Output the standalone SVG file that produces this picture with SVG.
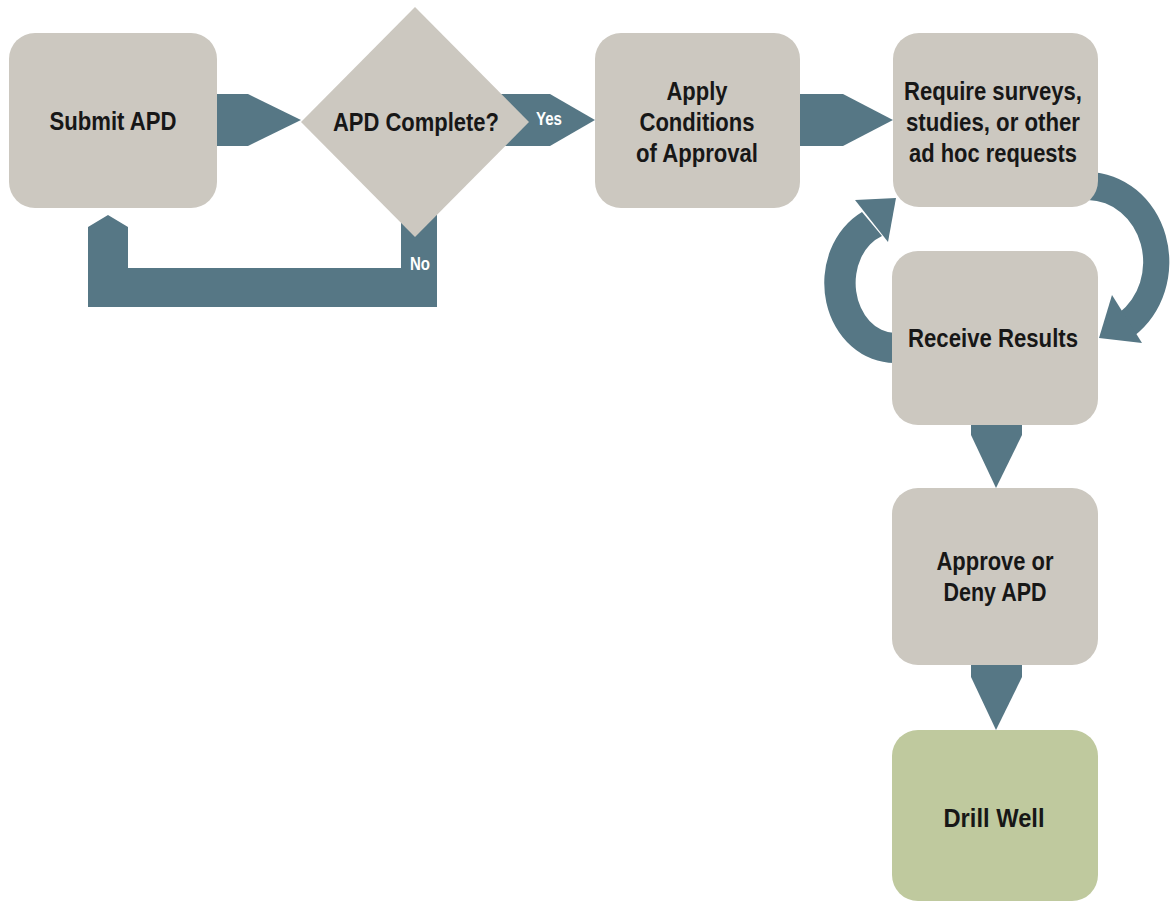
<svg xmlns="http://www.w3.org/2000/svg" width="1176" height="901" viewBox="0 0 1176 901">
<style>
.box{fill:#ccc8c0}
.go{fill:#bfc99e}
.con{fill:#567785}
.t{font-family:"Liberation Sans",Arial,sans-serif;font-weight:bold;font-size:25px;fill:#171717;text-anchor:middle}
.w{font-family:"Liberation Sans",Arial,sans-serif;font-weight:bold;font-size:18px;fill:#ffffff;text-anchor:middle}
</style>
<rect width="1176" height="901" fill="#ffffff"/>
<g id="connectors">
<polygon class="con" points="200,94 248,94 301,120 248,146 200,146"/>
<polygon class="con" points="500,94 550,94 595,120 550,146 500,146"/>
<polygon class="con" points="780,94 843,94 893,120 843,146 780,146"/>
<path class="con" d="M108,215 L128,227 L128,268 L401,268 L401,205 L437,205 L437,307 L88,307 L88,227 Z"/>
<path class="con" d="M1088,172 A82,90 0 0 1 1134,336 L1119,313 A56,62 0 0 0 1088,200 Z"/>
<polygon class="con" points="1112,295 1142,343 1099,338"/>
<path class="con" d="M895,363 A70,80 0 0 1 862,212 L882,236 A40,50 0 0 0 895,333 Z"/>
<polygon class="con" points="855,200 896,198 888,242"/>
<polygon class="con" points="971,415 1022,415 1022,435 996,488 971,435"/>
<polygon class="con" points="971,655 1022,655 1022,677 996,730 971,677"/>
<text class="w" x="549" y="125" textLength="26" lengthAdjust="spacingAndGlyphs">Yes</text>
<text class="w" x="420" y="270" textLength="20" lengthAdjust="spacingAndGlyphs">No</text>
</g>
<g id="submit">
<rect class="box" x="9" y="33" width="208" height="175" rx="26"/>
<text class="t" x="113" y="130" textLength="127" lengthAdjust="spacingAndGlyphs">Submit APD</text>
</g>
<g id="complete">
<polygon class="box" points="415,7 529,122 415,237 301,122"/>
<text class="t" x="416" y="131" textLength="166" lengthAdjust="spacingAndGlyphs">APD Complete?</text>
</g>
<g id="apply">
<rect class="box" x="595" y="33" width="205" height="175" rx="26"/>
<text class="t" x="697" y="100" textLength="61" lengthAdjust="spacingAndGlyphs">Apply</text>
<text class="t" x="697" y="131" textLength="115" lengthAdjust="spacingAndGlyphs">Conditions</text>
<text class="t" x="697" y="162" textLength="122" lengthAdjust="spacingAndGlyphs">of Approval</text>
</g>
<g id="require">
<rect class="box" x="893" y="33" width="205" height="174" rx="26"/>
<text class="t" x="993" y="100" textLength="178" lengthAdjust="spacingAndGlyphs">Require surveys,</text>
<text class="t" x="993" y="131" textLength="174" lengthAdjust="spacingAndGlyphs">studies, or other</text>
<text class="t" x="993" y="162" textLength="168" lengthAdjust="spacingAndGlyphs">ad hoc requests</text>
</g>
<g id="receive">
<rect class="box" x="892" y="251" width="206" height="174" rx="26"/>
<text class="t" x="993" y="347" textLength="170" lengthAdjust="spacingAndGlyphs">Receive Results</text>
</g>
<g id="approve">
<rect class="box" x="892" y="488" width="206" height="177" rx="26"/>
<text class="t" x="995" y="570" textLength="117" lengthAdjust="spacingAndGlyphs">Approve or</text>
<text class="t" x="995" y="601" textLength="103" lengthAdjust="spacingAndGlyphs">Deny APD</text>
</g>
<g id="drill">
<rect class="go" x="892" y="730" width="206" height="171" rx="26"/>
<text class="t" x="994" y="827" textLength="101" lengthAdjust="spacingAndGlyphs">Drill Well</text>
</g>
</svg>
